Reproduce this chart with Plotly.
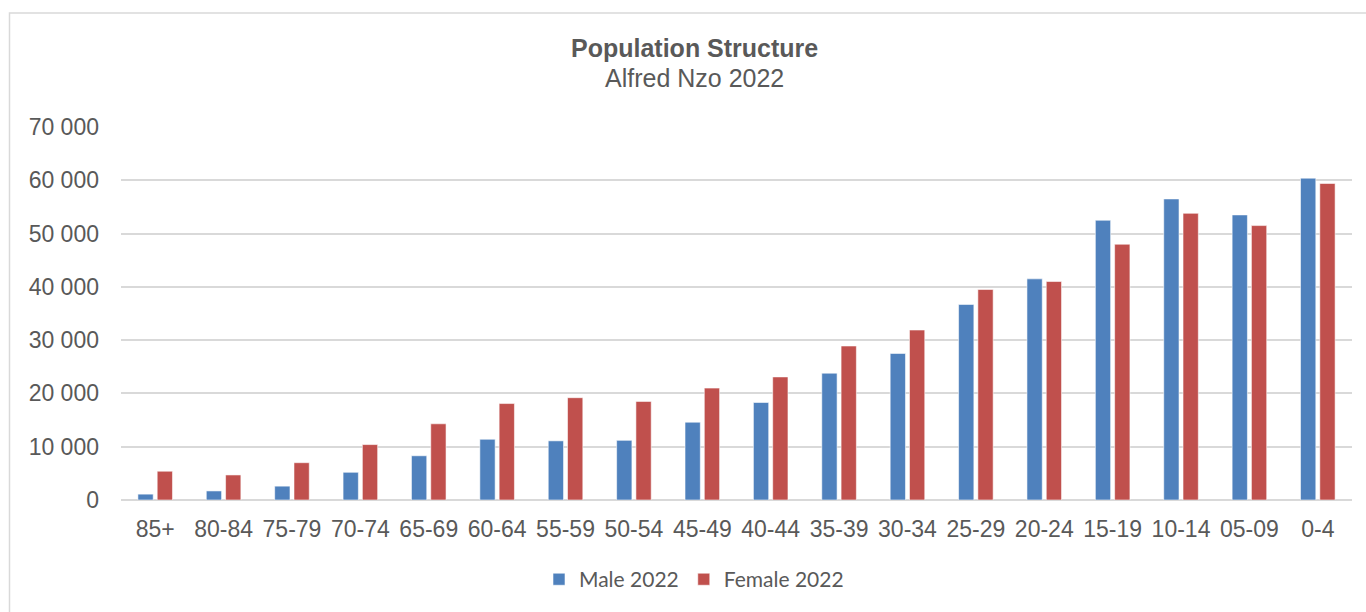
import plotly.graph_objects as go

# Age bands, oldest to youngest
age_groups = ["85+", "80-84", "75-79", "70-74", "65-69", "60-64", "55-59", "50-54",
              "45-49", "40-44", "35-39", "30-34", "25-29", "20-24", "15-19",
              "10-14", "05-09", "0-4"]

male_2022 = [1100, 1700, 2600, 5200, 8300, 11400, 11100, 11200, 14600, 18300,
             23800, 27500, 36700, 41500, 52500, 56500, 53500, 60400]

female_2022 = [5400, 4700, 7000, 10400, 14300, 18100, 19200, 18500, 21000, 23100,
               28900, 31900, 39500, 41000, 48000, 53800, 51500, 59400]

y_ticks = [0, 10000, 20000, 30000, 40000, 50000, 60000, 70000]

BLUE = "#4F81BD"
RED = "#C0504D"
TEXT = "#595959"
GRID = "#D9D9D9"

fig = go.Figure()
fig.add_trace(go.Bar(
    x=age_groups, y=male_2022, name="Male 2022",
    marker=dict(color=BLUE, line=dict(color="rgba(255,255,255,0.7)", width=0.8)),
))
fig.add_trace(go.Bar(
    x=age_groups, y=female_2022, name="Female 2022",
    marker=dict(color=RED, line=dict(color="rgba(255,255,255,0.7)", width=0.8)),
))

L, R, T, B = 121, 14, 127, 110
W, H = 1366, 612
pw, ph = W - L - R, H - T - B


def px_x(x):
    return (x - L) / pw


def px_y(y):
    return (H - B - y) / ph


fig.update_layout(
    width=W, height=H,
    margin=dict(l=L, r=R, t=T, b=B),
    paper_bgcolor="white", plot_bgcolor="white",
    barmode="group", bargap=0.436, bargroupgap=0.207,
    separators=". ",
    font=dict(family="Liberation Sans, Arial, sans-serif", color=TEXT),
    showlegend=True,
    legend=dict(
        orientation="h", x=px_x(694), xanchor="center",
        y=px_y(582), yanchor="middle",
        font=dict(family="Lato, Carlito, sans-serif", size=21, color=TEXT),
        itemwidth=30, traceorder="normal",
    ),
    xaxis=dict(
        type="category", showgrid=False, showline=False, zeroline=False,
        ticks="", tickfont=dict(size=23, color=TEXT), ticklabelstandoff=13,
    ),
    yaxis=dict(
        range=[0, 70000], tickvals=y_ticks, tickformat=",d",
        showgrid=True, gridcolor=GRID, gridwidth=1.6,
        zeroline=True, zerolinecolor=GRID, zerolinewidth=1.6,
        showline=False, ticks="", tickfont=dict(size=23, color=TEXT),
        ticklabelstandoff=21,
    ),
    annotations=[
        dict(text="<b>Population Structure</b>", xref="paper", yref="paper",
             x=px_x(694), y=px_y(48), xanchor="center", yanchor="middle",
             showarrow=False,
             font=dict(family="Liberation Sans, Arial, sans-serif", size=25, color=TEXT)),
        dict(text="Alfred Nzo 2022", xref="paper", yref="paper",
             x=px_x(694), y=px_y(78), xanchor="center", yanchor="middle",
             showarrow=False,
             font=dict(family="Liberation Sans, Arial, sans-serif", size=25, color=TEXT)),
    ],
    shapes=[
        # chart frame
        dict(type="rect", xref="paper", yref="paper",
             x0=px_x(9.5), x1=px_x(1420), y0=px_y(12.5), y1=px_y(700),
             line=dict(color=GRID, width=1.5), fillcolor="rgba(0,0,0,0)",
             layer="below"),
    ],
)

fig.write_html("out.html")
